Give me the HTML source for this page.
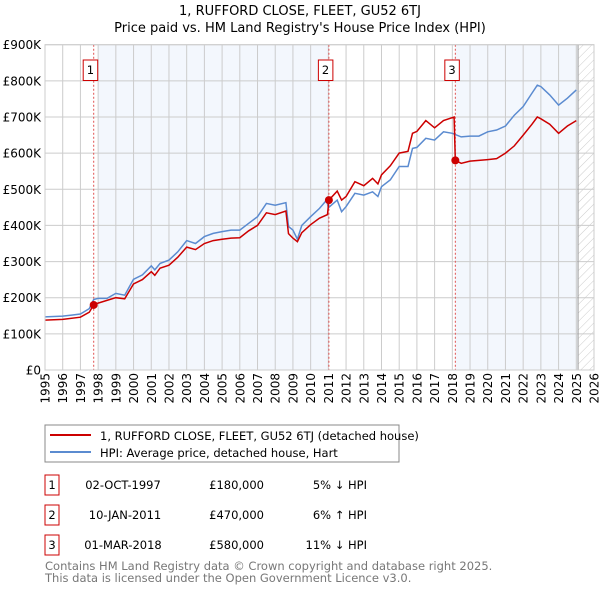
<!DOCTYPE html>
<html><head><meta charset="utf-8"><style>
body{margin:0;background:#fff;font-family:"Liberation Sans","DejaVu Sans",sans-serif;}
svg text{font-family:"DejaVu Sans","Liberation Sans",sans-serif;}
</style></head><body>
<svg id="c" width="600" height="590" xmlns="http://www.w3.org/2000/svg">
<defs><pattern id="hatch" width="6" height="6" patternUnits="userSpaceOnUse" patternTransform="rotate(45)"><line x1="0" y1="0" x2="0" y2="6" stroke="#ccc" stroke-width="1"/></pattern></defs>
<text x="300" y="15" text-anchor="middle" font-size="13">1, RUFFORD CLOSE, FLEET, GU52 6TJ</text>
<text x="300" y="32" text-anchor="middle" font-size="13">Price paid vs. HM Land Registry's House Price Index (HPI)</text>
<g id="plot"></g>
<rect x="45" y="425" width="354" height="37" fill="#fff" stroke="#888"/>
<line x1="50" y1="435" x2="91" y2="435" stroke="#cc0000" stroke-width="2"/>
<text x="100" y="440" font-size="11.5">1, RUFFORD CLOSE, FLEET, GU52 6TJ (detached house)</text>
<line x1="50" y1="452" x2="91" y2="452" stroke="#5b8bd0" stroke-width="2"/>
<text x="100" y="457" font-size="11.5">HPI: Average price, detached house, Hart</text>
<g font-size="11.5">
<rect x="45" y="475" width="14" height="20" fill="none" stroke="#cc0000"/><text x="52" y="489" text-anchor="middle">1</text>
<text x="123" y="489" text-anchor="middle">02-OCT-1997</text><text x="264" y="489" text-anchor="end">£180,000</text><text x="367" y="489" text-anchor="end">5% ↓ HPI</text>
<rect x="45" y="505" width="14" height="20" fill="none" stroke="#cc0000"/><text x="52" y="519" text-anchor="middle">2</text>
<text x="125" y="519" text-anchor="middle">10-JAN-2011</text><text x="264" y="519" text-anchor="end">£470,000</text><text x="367" y="519" text-anchor="end">6% ↑ HPI</text>
<rect x="45" y="535" width="14" height="20" fill="none" stroke="#cc0000"/><text x="52" y="549" text-anchor="middle">3</text>
<text x="123" y="549" text-anchor="middle">01-MAR-2018</text><text x="264" y="549" text-anchor="end">£580,000</text><text x="367" y="549" text-anchor="end">11% ↓ HPI</text>
</g>
<text x="45" y="570" font-size="11.5" fill="#777">Contains HM Land Registry data © Crown copyright and database right 2025.</text>
<text x="45" y="582" font-size="11.5" fill="#777">This data is licensed under the Open Government Licence v3.0.</text>
</svg>
<script>
const hpiYears=[1995,1996,1996.5,1997,1997.5,1997.75,1998,1998.5,1999,1999.5,2000,2000.5,2001,2001.2,2001.5,2002,2002.5,2003,2003.5,2004,2004.5,2005,2005.5,2006,2006.5,2007,2007.5,2008,2008.6,2008.75,2009,2009.25,2009.5,2010,2010.5,2010.9,2011,2011.5,2011.75,2012,2012.5,2013,2013.5,2013.8,2014,2014.5,2015,2015.5,2015.75,2016,2016.5,2017,2017.5,2018,2018.5,2019,2019.5,2020,2020.5,2021,2021.5,2022,2022.5,2022.8,2023,2023.5,2024,2024.5,2025];
const hpiValues=[147,149,152,155,170,195,198,198,212,207,251,263,288,277,295,304,327,358,350,369,378,383,387,387,406,424,461,456,463,397,387,362,400,424,447,470,449,470,438,452,489,484,493,480,507,526,563,563,613,616,641,636,659,655,645,647,647,659,664,675,705,729,766,788,784,761,733,752,775];
const priceYears=[1995,1996,1997,1997.5,1997.75,1998,1999,1999.5,2000,2000.5,2001,2001.2,2001.5,2002,2002.5,2003,2003.5,2004,2004.5,2005,2005.5,2006,2006.5,2007,2007.5,2008,2008.6,2008.75,2009,2009.25,2009.5,2010,2010.5,2010.95,2011.03,2011.5,2011.75,2012,2012.5,2013,2013.5,2013.8,2014,2014.5,2015,2015.5,2015.75,2016,2016.5,2017,2017.5,2018.1,2018.17,2018.5,2019,2019.5,2020,2020.5,2021,2021.5,2022,2022.5,2022.8,2023,2023.5,2024,2024.5,2025];
const priceValues=[138,140,146,160,180,185,200,197,238,250,272,262,282,290,312,340,333,350,358,362,365,366,385,400,435,430,440,377,365,355,380,402,420,430,470,495,470,480,521,510,530,515,540,565,600,605,655,660,690,670,690,700,580,572,578,580,582,585,600,620,650,680,700,695,680,655,675,690];
const saleYears=[1997.75,2011.03,2018.17];
const saleValues=[180,470,580];
const saleLabels=["1","2","3"];
const yTicks=[0,100,200,300,400,500,600,700,800,900];
const yTickLabels=["£0","£100K","£200K","£300K","£400K","£500K","£600K","£700K","£800K","£900K"];
const xTicks=[1995,1996,1997,1998,1999,2000,2001,2002,2003,2004,2005,2006,2007,2008,2009,2010,2011,2012,2013,2014,2015,2016,2017,2018,2019,2020,2021,2022,2023,2024,2025,2026];

const L=45,R=594,T=44.7,B=370;
const sx=y=>L+(y-1995)/(2026-1995)*(R-L);
const sy=v=>B-v/900*(B-T);
const NS='http://www.w3.org/2000/svg';
const g=document.getElementById('plot');
function mk(tag,attrs,parent){const e=document.createElementNS(NS,tag);for(const k in attrs)e.setAttribute(k,attrs[k]);(parent||g).appendChild(e);return e;}
let e;
e=mk('rect',{x:L,y:T,width:R-L,height:B-T,fill:'#fff'});


e=mk('rect',{x:sx(1998),y:T,width:sx(saleYears[1])-sx(1998),height:B-T,fill:'#eef3fc',opacity:0.7});


e=mk('rect',{x:sx(saleYears[2]),y:T,width:sx(2025.1)-sx(saleYears[2]),height:B-T,fill:'#eef3fc',opacity:0.7});


e=mk('rect',{x:sx(2025.1),y:T,width:R-sx(2025.1),height:B-T,fill:'url(#hatch)'});


yTicks.forEach((v,i)=>{
 e=mk('line',{x1:L,x2:R,y1:sy(v),y2:sy(v),stroke:'#ccc','stroke-width':1});
 
 
 e=mk('text',{x:L-4,y:sy(v)+4.5,'text-anchor':'end','font-size':'12'});
 e.textContent=yTickLabels[i];
 
 
});
xTicks.forEach(y=>{
 e=mk('line',{x1:sx(y),x2:sx(y),y1:T,y2:B,stroke:'#ccc','stroke-width':1});
 
 
 e=mk('text',{x:0,y:0,'text-anchor':'end','font-size':'12',transform:`translate(${sx(y)+4.5},${B+3}) rotate(-90)`});
 e.textContent=String(y);
 
 
});
e=mk('line',{x1:sx(2025.1),x2:sx(2025.1),y1:T,y2:B,stroke:'#999','stroke-width':1});


saleYears.forEach((y,i)=>{
 e=mk('line',{x1:sx(y),x2:sx(y),y1:T,y2:B,stroke:'#e05050','stroke-width':1,'stroke-dasharray':'2,2'});
 
 
 e=mk('rect',{x:sx(y)-10.5,y:60,width:14.5,height:20.5,fill:'#fff',stroke:'#cc0000'});
 
 
 e=mk('text',{x:sx(y)-3.3,y:74,'text-anchor':'middle','font-size':'11.5'});
 e.textContent=saleLabels[i];
 
 
});
const path=(xs,vs)=>xs.map((y,i)=>(i?'L':'M')+sx(y).toFixed(1)+','+sy(vs[i]).toFixed(1)).join('');
e=mk('path',{d:path(hpiYears,hpiValues),fill:'none',stroke:'#5b8bd0','stroke-width':1.5});


e=mk('path',{d:path(priceYears,priceValues),fill:'none',stroke:'#cc0000','stroke-width':1.5});


saleYears.forEach((y,i)=>{
 e=mk('circle',{cx:sx(y),cy:sy(saleValues[i]),r:4,fill:'#cc0000'});
 
 
});
e=mk('rect',{x:L,y:T,width:R-L,height:B-T,fill:'none',stroke:'#ccc'});


</script>
</body></html>
